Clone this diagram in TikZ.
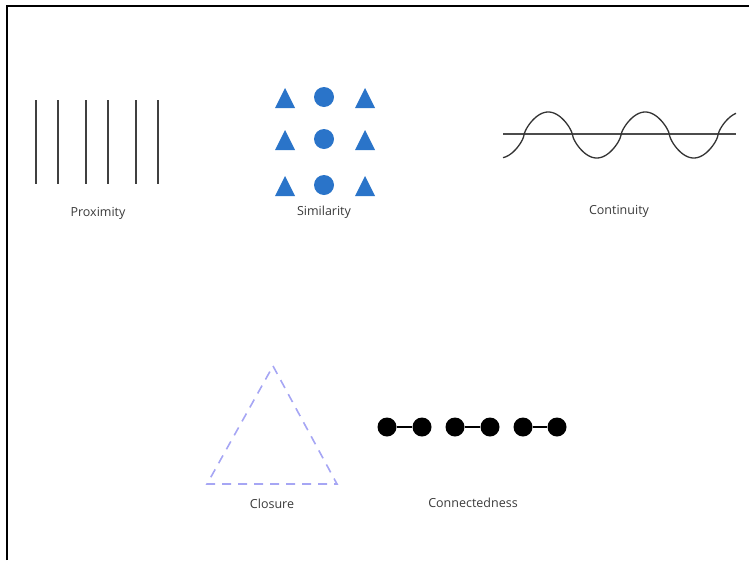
\documentclass[tikz,border=0pt]{standalone}
\usepackage{fontspec}
\setmainfont{Open Sans}
\usetikzlibrary{positioning}
\definecolor{simblue}{HTML}{2A74C9}
\definecolor{closurelav}{HTML}{A6A6F4}
\definecolor{labelgray}{HTML}{3A3A3A}
\tikzset{
  caption/.style={text=labelgray, font=\fontsize{12.5}{14}\selectfont, inner sep=0pt},
  dot/.style={circle, fill=black, minimum size=19pt, inner sep=0pt},
}
\begin{document}
\begin{tikzpicture}[x=1pt, y=-1pt]
        \useasboundingbox (0,0) rectangle (749,560);
        % Frame
        \draw[line width=2pt] (7,560) -- (7,6) -- (749,6);
        % Proximity: three pairs of bars
        \foreach \x in {36, 58, 86, 108, 136, 158} {
            \draw[line width=1.4pt, black!75] (\x,100) -- (\x,184);
          }
        \node[caption] (proximity) at (98,213) {Proximity};
        % Similarity: triangles and circles
        \foreach \row/\y in {1/98, 2/140, 3/186} {
            \foreach \x in {285, 365} {
                \fill[simblue] (\x-10,\y+10) -- (\x,\y-10) -- (\x+10,\y+10) -- cycle;
              }
            \fill[simblue] (324,\y-1) circle (10);
          }
        \node[caption] (similarity) at (324,212) {Similarity};
        % Continuity: line and rounded wave
        \draw[line width=1.3pt, black!70] (503,134) -- (736,134);
        \draw[line width=1.3pt, black!80, domain=503:736, samples=240, smooth]
          plot (\x, {135 - 23*sin(3.7113*(\x-524))*pow(abs(sin(3.7113*(\x-524)))+0.001,-0.3)});
        \node[caption] (continuity) at (619,211) {Continuity};
        % Closure: dashed triangle
        \draw[closurelav, line width=1.6pt, dash pattern=on 9pt off 7pt]
          (273,366) -- (337,484) -- (207,484) -- cycle;
        \node[caption] (closure) at (272,504) {Closure};
        % Connectedness: pairs of joined dots
        \foreach \i/\x in {1/387, 2/422, 3/455, 4/490, 5/523, 6/557} {
            \node[dot] (dot\i) at (\x,427) {};
          }
        \foreach \a/\b in {1/2, 3/4, 5/6} {
            \draw[line width=1.3pt] (dot\a) -- (dot\b);
          }
        \node[caption] (connectedness) at (473,503) {Connectedness};
      \end{tikzpicture}
\end{document}
